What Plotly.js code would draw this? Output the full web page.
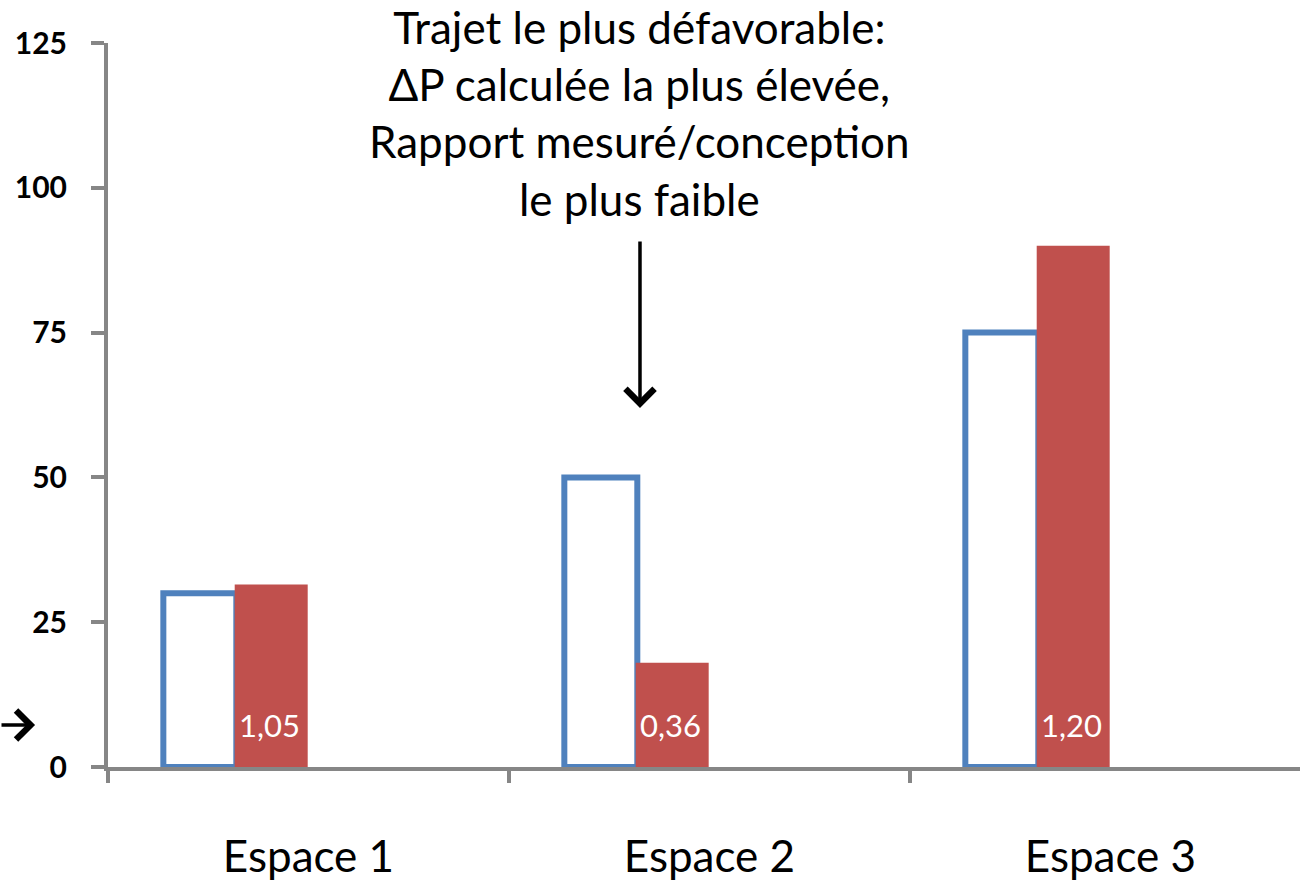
<!DOCTYPE html>
<html>
<head>
<meta charset="utf-8">
<script src="https://cdn.plot.ly/plotly-3.0.1.min.js"></script>
<style>
  html, body { margin: 0; padding: 0; background: #ffffff; }
  #chart { width: 1300px; height: 883px; }
</style>
</head>
<body>
<div id="chart"></div>
<script>
// Pressure drop per space: design value vs measured value, with measured/design ratio
const categories = ['Espace 1', 'Espace 2', 'Espace 3'];
const designValues = [30, 50, 75];
const measuredValues = [31.5, 18, 90];
const ratioValues = [1.05, 0.36, 1.20];
const yTickValues = [0, 25, 50, 75, 100, 125];

const FONT = 'Lato, "Open Sans", sans-serif';
const AXIS_GREY = '#868686';
const BLUE = '#4F81BD';
const RED = '#C0504D';
const BAR_W = 0.182;

const formatRatio = v => v.toFixed(2).replace('.', ',');

const traces = [
  {
    type: 'bar',
    name: 'Conception',
    x: categories,
    y: designValues,
    width: BAR_W,
    offset: -0.362,
    marker: { color: '#ffffff', line: { color: BLUE, width: 6 } },
    hoverinfo: 'x+y'
  },
  {
    type: 'bar',
    name: 'Mesuré',
    x: categories,
    y: measuredValues,
    width: BAR_W,
    offset: -0.184,
    marker: { color: RED, line: { width: 0 } },
    hoverinfo: 'x+y'
  }
];

// Ratio labels written in white at the foot of each measured bar
const ratioLabels = categories.map((c, i) => ({
  x: c, y: 0, xref: 'x', yref: 'y',
  xshift: -39, yshift: 21,
  yanchor: 'bottom', xanchor: 'center',
  text: formatRatio(ratioValues[i]),
  showarrow: false,
  font: { family: FONT, size: 31, color: '#ffffff' }
}));

const annotations = ratioLabels.concat([
  // explanatory note above the worst path
  {
    xref: 'paper', yref: 'paper',
    x: 0.4463, y: 0.9035,
    xanchor: 'center', yanchor: 'middle',
    text: 'Trajet le plus défavorable:<br>ΔP calculée la plus élevée,<br>Rapport mesuré/conception<br>le plus faible',
    showarrow: false,
    align: 'center',
    font: { family: FONT, size: 44, color: '#000000' }
  },
  // downward arrow pointing at Espace 2
  {
    xref: 'paper', yref: 'y',
    x: 0.4463, y: 62,
    ax: 0, ay: -168, axref: 'pixel', ayref: 'pixel',
    text: '',
    showarrow: true,
    arrowhead: 4, arrowsize: 1.6, arrowwidth: 3.5,
    arrowcolor: '#000000'
  },
  // small arrow at the left edge pointing to the axis
  {
    xref: 'paper', yref: 'y',
    x: -0.0612, y: 7.25,
    ax: -40, ay: 0, axref: 'pixel', ayref: 'pixel',
    text: '',
    showarrow: true,
    arrowhead: 4, arrowsize: 1.6, arrowwidth: 3.5,
    arrowcolor: '#000000'
  }
]);

const layout = {
  width: 1300,
  height: 883,
  margin: { l: 108, r: 0, t: 43, b: 116, pad: 0 },
  paper_bgcolor: '#ffffff',
  plot_bgcolor: '#ffffff',
  showlegend: false,
  barmode: 'overlay',
  xaxis: {
    type: 'category',
    range: [-0.5, 2.4726],
    showgrid: false,
    zeroline: false,
    showline: true,
    linecolor: AXIS_GREY,
    linewidth: 4,
    ticks: 'outside',
    tickson: 'boundaries',
    ticklen: 12,
    tickwidth: 4,
    tickcolor: AXIS_GREY,
    ticklabelstandoff: 48,
    tickfont: { family: FONT, size: 44, color: '#000000' },
    fixedrange: true
  },
  yaxis: {
    range: [0, 125],
    tickvals: yTickValues,
    showgrid: false,
    zeroline: false,
    showline: true,
    linecolor: AXIS_GREY,
    linewidth: 4,
    ticks: 'outside',
    ticklen: 13,
    tickwidth: 4,
    tickcolor: AXIS_GREY,
    ticklabelstandoff: 18,
    tickfont: { family: FONT, size: 30, color: '#000000', weight: 'bold' },
    fixedrange: true
  },
  annotations: annotations
};

Plotly.newPlot('chart', traces, layout, { displayModeBar: false, staticPlot: true });
</script>
</body>
</html>
